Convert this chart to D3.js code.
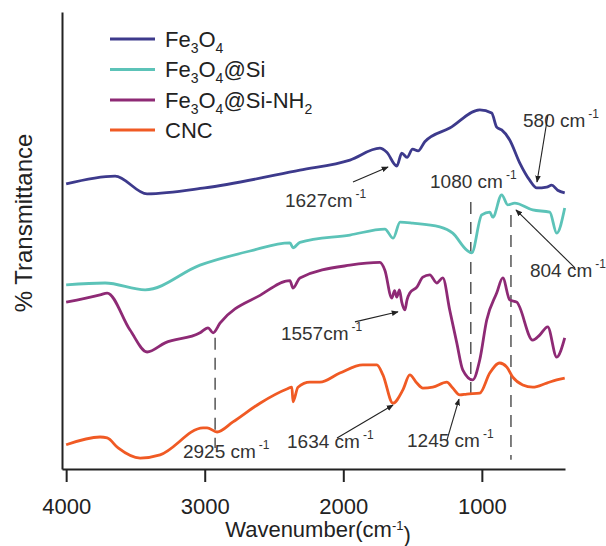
<!DOCTYPE html>
<html>
<head>
<meta charset="utf-8">
<script src="https://cdnjs.cloudflare.com/ajax/libs/d3/7.8.5/d3.min.js"></script>
<style>
  body { margin: 0; background: #fff; }
  svg { display: block; font-family: "Liberation Sans", Arial, sans-serif; }
</style>
</head>
<body>
<div id="chart"></div>
<script>
// FT-IR spectra, values (y is arbitrary %T, stacked)
var seriesNames = ["Fe3O4", "Fe3O4@Si", "Fe3O4@Si-NH2", "CNC"];
var seriesColors = ["#3d3a8c", "#5cc3b8", "#8e2a75", "#f05a24"];

var waveFe3O4 = [4000, 3647, 3416, 3000, 2313, 1952, 1736, 1686, 1614, 1578, 1540, 1500, 1460, 1412, 1232, 1015, 929, 893, 857, 799, 727, 655, 604, 532, 496, 453, 402];
var transFe3O4 = [62.4, 64.1, 60.2, 61.5, 65.4, 67.6, 70.2, 69.3, 66.3, 69.1, 68.2, 70.0, 69.6, 71.6, 74.6, 78.6, 77.9, 74.8, 74.2, 72.0, 67.0, 63.2, 61.5, 61.7, 62.1, 61.0, 60.4];

var waveSi = [4000, 3719, 3430, 3034, 2673, 2385, 2363, 2313, 1952, 1700, 1640, 1590, 1498, 1304, 1210, 1109, 1073, 1001, 943, 921, 857, 813, 763, 633, 510, 460, 402];
var transSi = [40.3, 40.7, 39.2, 44.6, 47.7, 49.5, 48.4, 49.6, 51.2, 52.5, 50.5, 54.0, 53.8, 53.0, 51.6, 47.9, 47.3, 55.6, 56.2, 55.1, 60.0, 57.8, 58.2, 56.7, 56.2, 51.6, 57.1];

var waveNH2 = [4000, 3755, 3704, 3539, 3416, 3286, 3034, 2976, 2940, 2890, 2601, 2385, 2363, 2313, 1952, 1736, 1700, 1650, 1630, 1614, 1595, 1578, 1556, 1540, 1520, 1469, 1426, 1376, 1325, 1282, 1232, 1181, 1138, 1066, 1015, 965, 893, 849, 799, 748, 633, 583, 525, 460, 402];
var transNH2 = [36.5, 38.1, 38.5, 30.4, 25.6, 27.6, 29.8, 30.9, 29.8, 31.9, 38.0, 41.2, 39.6, 41.8, 44.6, 45.2, 43.5, 37.4, 39.0, 37.6, 39.2, 36.5, 34.8, 37.0, 38.5, 39.8, 42.0, 42.5, 40.7, 41.8, 34.8, 27.6, 21.7, 19.5, 23.9, 32.6, 38.5, 41.8, 37.0, 36.5, 28.2, 29.3, 31.1, 24.5, 28.7];

var waveCNC = [4000, 3755, 3704, 3625, 3466, 3322, 3012, 2983, 2911, 2796, 2601, 2407, 2371, 2363, 2327, 2241, 2169, 2025, 1859, 1758, 1714, 1642, 1570, 1520, 1469, 1426, 1354, 1253, 1210, 1159, 1109, 1015, 943, 871, 820, 777, 705, 633, 532, 460, 402];
var transCNC = [5.3, 7.0, 6.8, 4.6, 2.4, 3.1, 9.0, 9.0, 8.1, 10.3, 14.4, 17.5, 17.9, 14.7, 17.9, 19.0, 19.0, 21.0, 22.8, 22.8, 20.6, 14.4, 17.3, 20.6, 18.8, 17.7, 17.9, 19.0, 17.7, 16.2, 16.4, 16.6, 21.0, 23.2, 22.3, 20.1, 18.4, 17.9, 18.8, 19.5, 19.9];

var majorTicks = [4000, 3000, 2000, 1000];
var minorTicks = [3500, 2500, 1500, 500];

// vertical dashed guides: wavenumber, top and bottom value
var guideWave = [2925, 1080, 790];
var guideTop = [28.7, 58.4, 55.6];
var guideBottom = [4.6, 15.8, 2.0];

// peak labels, anchored in data units
var peakText = ["580 cm", "1627cm", "1080 cm", "804 cm", "1557cm", "1634 cm", "1245 cm", "2925 cm"];
var peakTextWave = [703, 2421, 1374, 653, 2450, 2406, 1540, 3157];
var peakTextVal = [74.8, 57.3, 61.5, 42.0, 28.2, 4.6, 4.8, 2.4];
// arrows (null = no arrow): from / to
var arrowFrom = [[523, 77.5], [1930, 62.8], null, [328, 44.0], [1916, 32.2], [2045, 6.8], [1252, 6.3], null];
var arrowTo = [[602, 62.8], [1677, 66.1], null, [754, 56.7], [1605, 34.4], [1641, 14.0], [1165, 15.3], null];

var waves = [waveFe3O4, waveSi, waveNH2, waveCNC];
var trans = [transFe3O4, transSi, transNH2, transCNC];

var width = 606, height = 546;

var svg = d3.select("#chart").append("svg")
  .attr("width", width)
  .attr("height", height);

var x = d3.scaleLinear().domain([4030, 400]).range([62, 565]);
var y = d3.scaleLinear().domain([0, 100]).range([469, 12]);

svg.append("defs").append("marker")
  .attr("id", "arrow")
  .attr("viewBox", "0 0 10 10")
  .attr("refX", 9).attr("refY", 5)
  .attr("markerWidth", 7).attr("markerHeight", 7)
  .attr("markerUnits", "userSpaceOnUse")
  .attr("orient", "auto")
  .append("path")
  .attr("d", "M0,1 L10,5 L0,9 z")
  .attr("fill", "#222");

// dashed guides
svg.selectAll(".guide")
  .data(guideWave)
  .enter().append("line")
  .attr("class", "guide")
  .attr("x1", function(d) { return x(d); })
  .attr("x2", function(d) { return x(d); })
  .attr("y1", function(d, i) { return y(guideTop[i]); })
  .attr("y2", function(d, i) { return y(guideBottom[i]); })
  .attr("stroke", "#555")
  .attr("stroke-width", 1.5)
  .attr("stroke-dasharray", "12,8");

// spectra
var line = d3.line()
  .curve(d3.curveMonotoneX)
  .x(function(d) { return x(d[0]); })
  .y(function(d) { return y(d[1]); });

seriesNames.forEach(function(name, i) {
  var pts = waves[i].map(function(w, j) { return [w, trans[i][j]]; });
  svg.append("path")
    .datum(pts)
    .attr("fill", "none")
    .attr("stroke", seriesColors[i])
    .attr("stroke-width", 2.8)
    .attr("stroke-linejoin", "round")
    .attr("d", line);
});

// axes
var gx = svg.append("g").attr("transform", "translate(0," + y(0) + ")");
gx.call(d3.axisBottom(x).tickValues(minorTicks).tickSize(8).tickSizeOuter(0).tickFormat(""));
gx.call(d3.axisBottom(x).tickValues(majorTicks).tickSize(13).tickSizeOuter(0).tickPadding(16).tickFormat(d3.format("d")));
gx.selectAll("path, line").attr("stroke", "#222").attr("stroke-width", 2);
gx.selectAll("text").attr("font-size", 22).attr("fill", "#222")
  .attr("font-family", "'Liberation Sans', Arial, sans-serif");

var gy = svg.append("g").attr("transform", "translate(" + x(4030) + ",0)");
gy.call(d3.axisLeft(y).tickValues([]).tickSizeOuter(0));
gy.selectAll("path").attr("stroke", "#222").attr("stroke-width", 2);

// axis titles
var xt = svg.append("text")
  .attr("x", 318).attr("y", 537)
  .attr("text-anchor", "middle")
  .attr("font-size", 22).attr("fill", "#222");
xt.append("tspan").text("Wavenumber(cm");
xt.append("tspan").attr("dy", "-0.55em").attr("font-size", 13).text("-1");
xt.append("tspan").attr("dy", "0.55em").text(")");

svg.append("text")
  .attr("transform", "translate(32,223) rotate(-90)")
  .attr("text-anchor", "middle")
  .attr("font-size", 24).attr("fill", "#222")
  .text("% Transmittance");

// legend
var legendRows = [39, 69.5, 100, 130];
seriesNames.forEach(function(name, i) {
  var ly = legendRows[i];
  svg.append("line")
    .attr("x1", 110).attr("x2", 155)
    .attr("y1", ly).attr("y2", ly)
    .attr("stroke", seriesColors[i])
    .attr("stroke-width", 3);
  var t = svg.append("text")
    .attr("x", 165).attr("y", ly + 7.5)
    .attr("font-size", 22).attr("fill", "#222");
  var shift = 0;
  name.split(/(\d)/).forEach(function(part) {
    if (part === "") return;
    if (/^\d$/.test(part)) {
      t.append("tspan").attr("dy", 6 - shift).attr("font-size", 14).text(part);
      shift = 6;
    } else {
      t.append("tspan").attr("dy", -shift).text(part);
      shift = 0;
    }
  });
});

// peak labels and arrows
peakText.forEach(function(label, i) {
  var t = svg.append("text")
    .attr("x", x(peakTextWave[i])).attr("y", y(peakTextVal[i]))
    .attr("font-size", 19).attr("fill", "#333");
  t.append("tspan").text(label);
  t.append("tspan").attr("dy", "-0.75em").attr("dx", 3).attr("font-size", 12).text("-1");
  if (arrowFrom[i]) {
    svg.append("line")
      .attr("x1", x(arrowFrom[i][0])).attr("y1", y(arrowFrom[i][1]))
      .attr("x2", x(arrowTo[i][0])).attr("y2", y(arrowTo[i][1]))
      .attr("stroke", "#222")
      .attr("stroke-width", 1.1)
      .attr("marker-end", "url(#arrow)");
  }
});
</script>
</body>
</html>
